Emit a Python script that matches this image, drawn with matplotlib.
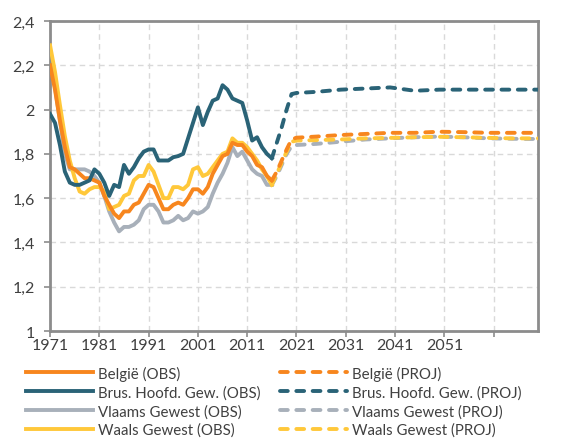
import matplotlib.pyplot as plt
from matplotlib.ticker import FuncFormatter

# observed fertility (1971-2016)
years_obs = list(range(1971, 2017))
belgie_obs = [2.20, 2.09, 1.95, 1.83, 1.74, 1.73, 1.71, 1.69, 1.69, 1.68,
              1.67, 1.61, 1.57, 1.53, 1.51, 1.54, 1.54, 1.57, 1.58, 1.62,
              1.66, 1.65, 1.60, 1.55, 1.55, 1.57, 1.58, 1.57, 1.60, 1.64,
              1.64, 1.62, 1.65, 1.71, 1.75, 1.79, 1.80, 1.85, 1.84, 1.84,
              1.81, 1.79, 1.75, 1.74, 1.70, 1.68]
brussel_obs = [1.98, 1.94, 1.84, 1.72, 1.67, 1.66, 1.66, 1.67, 1.68, 1.73,
               1.71, 1.67, 1.61, 1.66, 1.65, 1.75, 1.71, 1.74, 1.78, 1.81,
               1.82, 1.82, 1.77, 1.77, 1.77, 1.785, 1.79, 1.80, 1.87, 1.94,
               2.01, 1.93, 1.99, 2.04, 2.05, 2.11, 2.09, 2.05, 2.04, 2.03,
               1.95, 1.86, 1.875, 1.83, 1.80, 1.78]
vlaams_obs = [2.22, 2.10, 1.95, 1.80, 1.73, 1.73, 1.73, 1.73, 1.72, 1.70,
              1.67, 1.61, 1.54, 1.49, 1.45, 1.47, 1.47, 1.48, 1.50, 1.55,
              1.57, 1.57, 1.54, 1.49, 1.49, 1.50, 1.52, 1.50, 1.51, 1.54,
              1.53, 1.54, 1.56, 1.62, 1.67, 1.71, 1.76, 1.83, 1.79, 1.81,
              1.77, 1.73, 1.71, 1.70, 1.66, 1.66]
waals_obs = [2.29, 2.17, 2.02, 1.88, 1.77, 1.69, 1.63, 1.62, 1.64, 1.65,
             1.65, 1.63, 1.55, 1.56, 1.57, 1.61, 1.62, 1.68, 1.70, 1.70,
             1.75, 1.72, 1.66, 1.60, 1.60, 1.65, 1.65, 1.64, 1.66, 1.73,
             1.74, 1.70, 1.71, 1.74, 1.77, 1.80, 1.81, 1.87, 1.85, 1.85,
             1.83, 1.80, 1.77, 1.73, 1.70, 1.66]

# projections
years_proj = [2016, 2017, 2018, 2019, 2020, 2021, 2025, 2030, 2035, 2040,
              2045, 2050, 2055, 2060, 2065, 2070]
belgie_proj = [1.68, 1.72, 1.77, 1.82, 1.865, 1.873, 1.878, 1.885, 1.89, 1.895,
               1.895, 1.90, 1.898, 1.895, 1.895, 1.895]
brussel_proj = [1.78, 1.85, 1.92, 2.00, 2.07, 2.075, 2.08, 2.09, 2.095, 2.10,
                2.085, 2.09, 2.09, 2.09, 2.09, 2.09]
vlaams_proj = [1.66, 1.70, 1.75, 1.80, 1.835, 1.84, 1.845, 1.855, 1.865, 1.87,
               1.875, 1.878, 1.875, 1.87, 1.868, 1.867]
waals_proj = [1.66, 1.71, 1.76, 1.81, 1.855, 1.86, 1.862, 1.865, 1.87, 1.872,
              1.875, 1.877, 1.875, 1.872, 1.87, 1.87]

names = ["België", "Brus. Hoofd. Gew.", "Vlaams Gewest", "Waals Gewest"]
colors = ["#F7861E", "#2A6377", "#A8B0BA", "#FFC83A"]
zorders = [4, 5, 2, 3]

x_ticks = [1971, 1981, 1991, 2001, 2011, 2021, 2031, 2041, 2051, 2061]
x_labels = ["1971", "1981", "1991", "2001", "2011", "2021", "2031", "2041", "2051", ""]
y_ticks = [1, 1.2, 1.4, 1.6, 1.8, 2, 2.2, 2.4]

plt.rcParams['font.family'] = ['Lato', 'DejaVu Sans']

fig = plt.figure(figsize=(5.69, 4.39), dpi=100)
ax = fig.add_axes([0.088, 0.2437, 0.8575, 0.7062])

obs = [belgie_obs, brussel_obs, vlaams_obs, waals_obs]
proj = [belgie_proj, brussel_proj, vlaams_proj, waals_proj]

lines_obs = []
lines_proj = []
for i in range(4):
    l, = ax.plot(years_obs, obs[i], color=colors[i], lw=2.8, zorder=zorders[i],
                 solid_joinstyle='round', label=names[i] + " (OBS)")
    lines_obs.append(l)
for i in range(4):
    l, = ax.plot(years_proj, proj[i], color=colors[i], lw=2.8, zorder=zorders[i],
                 dashes=(2.0, 2.2), dash_capstyle='round',
                 label=names[i] + " (PROJ)")
    lines_proj.append(l)

ax.set_xlim(1971, 2070)
ax.set_ylim(1, 2.4)
ax.set_xticks(x_ticks)
ax.set_xticklabels(x_labels)
ax.set_yticks(y_ticks)
ax.yaxis.set_major_formatter(FuncFormatter(lambda v, p: ("%g" % round(v, 1)).replace(".", ",")))

ax.grid(True, color="#d9d9d9", linestyle=(0, (4, 3)), lw=1.0, zorder=0)
ax.set_axisbelow(True)
for s in ax.spines.values():
    s.set_color("#8c8c8c")
    s.set_linewidth(2.0)
ax.tick_params(colors="#8c8c8c", labelcolor="#404040", labelsize=11.5, length=4, width=1.2, pad=1)
ax.tick_params(axis='y', pad=7)

fig.legend(handles=lines_obs + lines_proj, ncol=2, loc="upper left",
           bbox_to_anchor=(0.045, 0.165), frameon=False, fontsize=10.8,
           handlelength=4.5, handletextpad=0.3, columnspacing=1.3,
           labelspacing=0.3, borderaxespad=0, borderpad=0, labelcolor="#404040")

fig.savefig("out.png", dpi=100)
